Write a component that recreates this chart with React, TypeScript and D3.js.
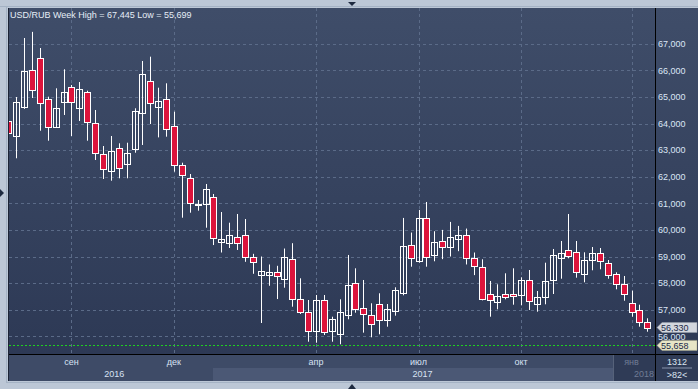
import React from "react";
import * as d3 from "d3";

// ---- data (weekly candles, USD/RUB) ----
const opens = [64094, 63541, 64609, 66011, 66451, 64910, 63880, 64820, 65360, 64594, 65184, 64008, 62842, 62203, 63068, 62466, 63030, 64384, 65586, 64634, 64910, 63906, 62428, 61940, 60955, 60962, 61225, 59550, 59500, 59733, 59808, 58970, 58300, 58300, 58400, 58165, 58895, 57391, 56902, 56199, 57365, 56212, 56074, 56815, 58017, 57078, 56789, 57203, 56601, 56940, 57617, 59450, 58842, 60440, 59045, 59600, 59350, 59650, 59800, 58950, 58594, 57579, 57278, 57579, 57579, 57564, 58105, 57203, 57466, 58131, 58933, 59233, 59158, 58331, 58857, 59120, 58744, 58331, 57955, 57241, 56977, 56526];
const closes = [63654, 64797, 65962, 65248, 64759, 63880, 64572, 65184, 64820, 65285, 64068, 62880, 62301, 62955, 62338, 62880, 64470, 65860, 64759, 64835, 63782, 62428, 62053, 61000, 60970, 61526, 59700, 59650, 59808, 59500, 58970, 58800, 58450, 58400, 58250, 58970, 57391, 56914, 56199, 57365, 56162, 56639, 56902, 57917, 57040, 56838, 56474, 56601, 57015, 57729, 59400, 58933, 60440, 58970, 59550, 59350, 59750, 59820, 58950, 58650, 57415, 57354, 57504, 57466, 57504, 58105, 57316, 57466, 58079, 59045, 59120, 59019, 58406, 58857, 59120, 58820, 58293, 57955, 57602, 56925, 56549, 56330];
const highs = [64200, 64996, 67214, 67445, 66838, 65008, 65323, 66038, 65447, 65560, 65233, 64508, 63154, 63530, 63256, 63278, 64572, 66350, 66512, 65346, 65511, 64444, 62526, 62102, 61124, 61726, 61350, 60672, 60271, 60598, 60410, 59100, 59000, 58700, 58650, 59300, 59500, 58180, 57365, 57553, 57553, 56737, 57391, 59057, 58556, 58117, 57241, 57617, 57214, 57842, 60450, 59900, 60750, 61050, 59950, 60000, 60300, 60150, 60050, 59150, 58895, 58079, 57955, 58368, 58556, 58218, 58492, 57703, 58767, 59282, 59583, 60598, 59583, 59158, 59357, 59320, 58868, 58406, 58267, 57714, 57188, 56677];
const lows = [63500, 62692, 64550, 64959, 63729, 63353, 63860, 64320, 63530, 64094, 63353, 62628, 61914, 61850, 61940, 61940, 62902, 63192, 63980, 63478, 63504, 62188, 60459, 60647, 60722, 60083, 59430, 59150, 59320, 59245, 58800, 58350, 56500, 57900, 57400, 57827, 57113, 56838, 55797, 55759, 56049, 55797, 55699, 56639, 56887, 56137, 55962, 56075, 56361, 56775, 57541, 58617, 58767, 58617, 58820, 58900, 59000, 59200, 58700, 58300, 57350, 56737, 57015, 57391, 57188, 57165, 56989, 56925, 57203, 57590, 58165, 58932, 58203, 58030, 58481, 58519, 58165, 57767, 57338, 56737, 56361, 56173];

const priceTicks = [56000, 57000, 58000, 59000, 60000, 61000, 62000, 63000, 64000, 65000, 66000, 67000];
const monthTickIndex = [8, 21, 39, 52, 65, 79];
const monthTickLabels = ["сен", "дек", "апр", "июл", "окт", "янв"];
const yearLabels = ["2016", "2017", "2018"];
const yearStartIndex = [26.5, 78.5];
const lastPrice = 56330;
const lowLine = 55658;
const titleText = "USD/RUB Week High = 67,445 Low = 55,699";

const W = 698, H = 389;
const PL = 9, PR = 655, PT = 8, PB = 354;
const AXB = 381;
const FONT = "'Liberation Sans', Arial, sans-serif";

export default function App() {
  const n = opens.length;
  const x = d3.scaleLinear().domain([0, n - 1]).range([8.3, 647.3]);
  const y = d3.scaleLinear().domain([56000, 67000]).range([336.3, 43.7]);
  const fmt = d3.format(",");
  const xr = (i: number) => Math.round(x(i)) + 0.5;

  const yb1 = x(yearStartIndex[0]);
  const yb2 = x(yearStartIndex[1]);

  return (
    <svg width={W} height={H} style={{ position: "absolute", left: 0, top: 0, display: "block" }}
      fontFamily={FONT}>
      <defs>
        <linearGradient id="bg" x1="0" y1="0" x2="0" y2="1">
          <stop offset="0" stopColor="#3f4d69" />
          <stop offset="1" stopColor="#2d3955" />
        </linearGradient>
        <clipPath id="plotclip">
          <rect x={PL} y={PT} width={PR - PL} height={PB - PT} />
        </clipPath>
      </defs>
      {/* outer frame */}
      <rect x={0} y={0} width={W} height={H} fill="#bcc7d6" />
      <line x1={0} x2={W} y1={6.5} y2={6.5} stroke="#a4b2c4" />
      <line x1={6.5} x2={6.5} y1={6} y2={AXB + 2} stroke="#a4b2c4" />
      <line x1={6} x2={W} y1={AXB + 1.5} y2={AXB + 1.5} stroke="#a4b2c4" />
      {/* plot + right axis background */}
      <rect x={PL - 1} y={PT} width={W - PL + 1} height={PB - PT} fill="url(#bg)" />
      <line x1={PL - 0.5} x2={PL - 0.5} y1={PT} y2={AXB} stroke="#1c2436" />

      {/* grid */}
      <g clipPath="url(#plotclip)">
        {priceTicks.map((v) => (
          <line key={"h" + v} x1={PL} x2={PR} y1={Math.round(y(v)) + 0.5} y2={Math.round(y(v)) + 0.5}
            stroke="#5b6b88" strokeDasharray="3,3" />
        ))}
        {monthTickIndex.map((i) => (
          <line key={"v" + i} x1={xr(i)} x2={xr(i)} y1={PT} y2={PB} stroke="#5b6b88" strokeDasharray="3,3" />
        ))}
        <line x1={PL} x2={PR} y1={Math.round(y(lowLine)) + 0.5} y2={Math.round(y(lowLine)) + 0.5}
          stroke="#1fd31f" strokeWidth={1.2} strokeDasharray="2,2" />
        {/* candles */}
        {opens.map((o, i) => {
          const c = closes[i];
          const up = c >= o;
          const cx = xr(i);
          const top = Math.round(y(Math.max(o, c))) + 0.5;
          const bot = Math.max(Math.round(y(Math.min(o, c))) + 0.5, top + 1);
          return (
            <g key={"c" + i}>
              <line x1={cx} x2={cx} y1={y(highs[i])} y2={y(lows[i])} stroke="#ffffff" />
              <rect x={cx - 3} y={top} width={6} height={bot - top}
                fill={up ? "none" : "#dc143c"} stroke="#ffffff" strokeWidth={1} />
            </g>
          );
        })}
      </g>

      {/* title */}
      <text x={10} y={18} fontSize={9} fill="#e6edf6">{titleText}</text>

      {/* right axis */}
      <line x1={PR + 0.5} x2={PR + 0.5} y1={PT} y2={AXB} stroke="#000000" />
      {priceTicks.map((v) => (
        <text key={"t" + v} x={658} y={y(v) + 3.2} fontSize={9} fill="#dbe6f6">{fmt(v)}</text>
      ))}
      {/* last price label */}
      <g>
        <path d={`M${657},${y(lastPrice)} L${662},${y(lastPrice) - 5} L${697},${y(lastPrice) - 5} L${697},${y(lastPrice) + 5} L${662},${y(lastPrice) + 5} Z`}
          fill="#d3d7de" stroke="#9aa2ae" strokeWidth={0.5} />
        <text x={661} y={y(lastPrice) + 3.2} fontSize={9} fill="#1b2a48">{fmt(lastPrice)}</text>
      </g>
      <g>
        <path d={`M${657},${y(lowLine)} L${662},${y(lowLine) - 5} L${697},${y(lowLine) - 5} L${697},${y(lowLine) + 5} L${662},${y(lowLine) + 5} Z`}
          fill="#e7e5c6" stroke="#a8a68a" strokeWidth={0.5} />
        <text x={661} y={y(lowLine) + 3.2} fontSize={9} fill="#1b2a48">{fmt(lowLine)}</text>
      </g>

      {/* bottom axis */}
      <rect x={PL} y={PB} width={PR - PL} height={AXB - PB} fill="#3e4b67" />
      <rect x={213} y={368} width={613 - 213} height={AXB - 368} fill="#4b5875" />
      <rect x={613} y={PB} width={PR - 613} height={AXB - PB} fill="#2f3b56" />
      <line x1={613.5} x2={613.5} y1={PB} y2={AXB} stroke="#56627a" />
      <rect x={PR + 1} y={PB} width={W - PR - 1} height={AXB - PB} fill="#2f3b56" />
      <line x1={PL} x2={W} y1={PB + 0.5} y2={PB + 0.5} stroke="#000000" />
      {monthTickIndex.map((i, k) => (
        <text key={"m" + i} x={x(i)} y={365} fontSize={9} textAnchor="middle"
          fill={k === monthTickIndex.length - 1 ? "#6f7c95" : "#d7e2f3"}>{monthTickLabels[k]}</text>
      ))}
      <text x={(PL + yb1) / 2 + 1} y={377} fontSize={9} textAnchor="middle" fill="#d7e2f3">{yearLabels[0]}</text>
      <text x={(yb1 + yb2) / 2} y={377} fontSize={9} textAnchor="middle" fill="#d7e2f3">{yearLabels[1]}</text>
      <text x={654} y={377} fontSize={9} textAnchor="end" fill="#6f7c95">{yearLabels[2]}</text>
      {/* counters */}
      <text x={677} y={365} fontSize={9} textAnchor="middle" fill="#dbe3f0">1312</text>
      <line x1={662} x2={692} y1={368} y2={368} stroke="#8793aa" />
      <text x={677} y={378} fontSize={9} textAnchor="middle" fill="#dbe3f0">{">82<"}</text>

      {/* small markers */}
      <path d="M348,2 L356,2 L352,6 Z" fill="#1e2a40" />
      <path d="M348,389 L356,389 L352,384 Z" fill="#1e2a40" />
      <path d="M0,189 L0,197 L4,193 Z" fill="#1e2a40" />
    </svg>
  );
}
